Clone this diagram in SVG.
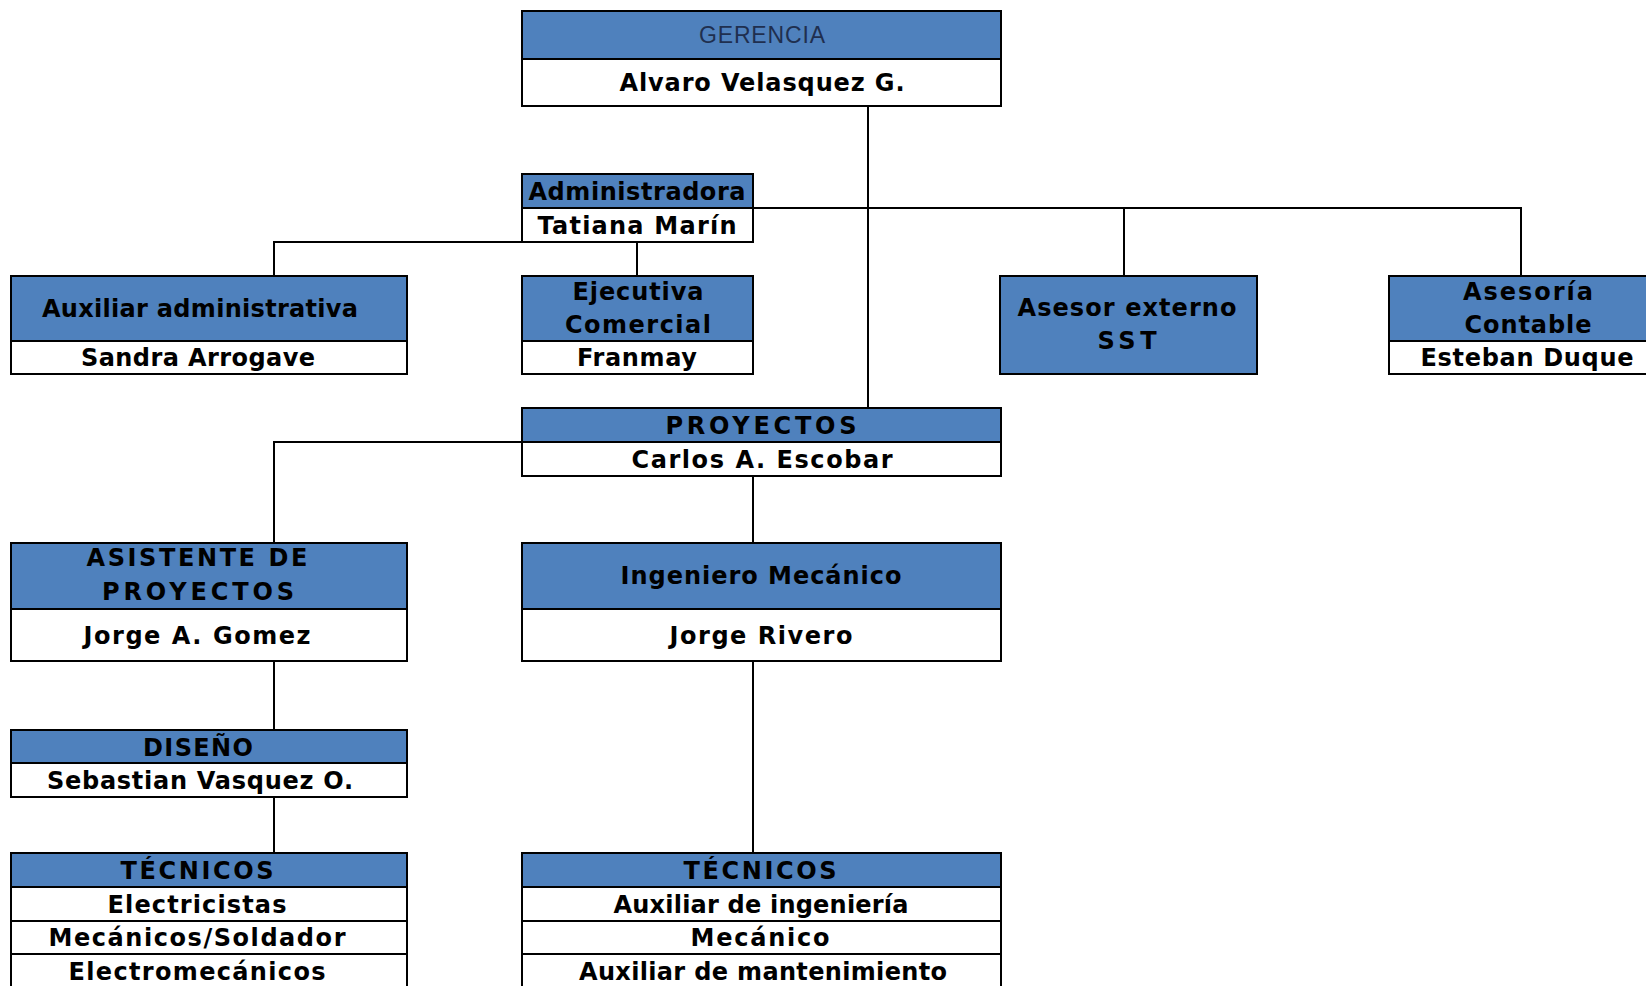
<svg xmlns="http://www.w3.org/2000/svg" width="1646" height="986" viewBox="0 0 1646 986">
<style>
.b{fill:#4F81BD;stroke:#000;stroke-width:2}
.w{fill:#fff;stroke:#000;stroke-width:2}
.c{fill:none;stroke:#000;stroke-width:2}
text{font-family:"DejaVu Sans","Liberation Sans",Arial,sans-serif;font-size:24px;font-weight:bold;fill:#000;text-anchor:middle}
.t{font-family:"Liberation Sans",Arial,sans-serif;font-size:23px;font-weight:normal;fill:#1F2F4F}
</style>
<rect width="1646" height="986" fill="#fff"/>
<g id="connectors">
<path class="c" d="M868 106V408"/>
<path class="c" d="M753 208H1521V276M1124 208V276"/>
<path class="c" d="M522 242H274V276M637 242V276"/>
<path class="c" d="M522 442H274V543M753 476V543"/>
<path class="c" d="M274 661V730M274 797V853"/>
<path class="c" d="M753 661V853"/>
</g>
<g id="gerencia">
<rect class="b" x="522" y="11" width="479" height="48"/>
<rect class="w" x="522" y="59" width="479" height="47"/>
<text class="t" x="762" y="43" textLength="126">GERENCIA</text>
<text x="762" y="91" textLength="285">Alvaro Velasquez G.</text>
</g>
<g id="administradora">
<rect class="b" x="522" y="174" width="231" height="34"/>
<rect class="w" x="522" y="208" width="231" height="34"/>
<text x="637" y="200" textLength="217">Administradora</text>
<text x="637" y="234" textLength="199">Tatiana Marín</text>
</g>
<g id="auxiliar">
<rect class="b" x="11" y="276" width="396" height="65"/>
<rect class="w" x="11" y="341" width="396" height="33"/>
<text x="200" y="317" textLength="316">Auxiliar administrativa</text>
<text x="198" y="366" textLength="234">Sandra Arrogave</text>
</g>
<g id="ejecutiva">
<rect class="b" x="522" y="276" width="231" height="65"/>
<rect class="w" x="522" y="341" width="231" height="33"/>
<text x="638" y="300" textLength="131">Ejecutiva</text>
<text x="638" y="333" textLength="146">Comercial</text>
<text x="637" y="366" textLength="120">Franmay</text>
</g>
<g id="asesor">
<rect class="b" x="1000" y="276" width="257" height="98"/>
<text x="1127" y="316" textLength="219">Asesor externo</text>
<text x="1127" y="349" textLength="59">SST</text>
</g>
<g id="contable">
<rect class="b" x="1389" y="276" width="262" height="65"/>
<rect class="w" x="1389" y="341" width="262" height="33"/>
<text x="1528" y="300" textLength="130">Asesoría</text>
<text x="1528" y="333" textLength="127">Contable</text>
<text x="1527" y="366" textLength="213">Esteban Duque</text>
</g>
<g id="proyectos">
<rect class="b" x="522" y="408" width="479" height="34"/>
<rect class="w" x="522" y="442" width="479" height="34"/>
<text x="761" y="434" textLength="191">PROYECTOS</text>
<text x="762" y="468" textLength="261">Carlos A. Escobar</text>
</g>
<g id="asistente">
<rect class="b" x="11" y="543" width="396" height="66"/>
<rect class="w" x="11" y="609" width="396" height="52"/>
<text x="197" y="566" textLength="221">ASISTENTE DE</text>
<text x="198" y="600" textLength="192">PROYECTOS</text>
<text x="197" y="644" textLength="227">Jorge A. Gomez</text>
</g>
<g id="ingeniero">
<rect class="b" x="522" y="543" width="479" height="66"/>
<rect class="w" x="522" y="609" width="479" height="52"/>
<text x="761" y="584" textLength="281">Ingeniero Mecánico</text>
<text x="761" y="644" textLength="183">Jorge Rivero</text>
</g>
<g id="diseno">
<rect class="b" x="11" y="730" width="396" height="33"/>
<rect class="w" x="11" y="763" width="396" height="34"/>
<text x="198" y="756" textLength="110">DISEÑO</text>
<text x="200" y="789" textLength="306">Sebastian Vasquez O.</text>
</g>
<g id="tecnicos-diseno">
<rect class="b" x="11" y="853" width="396" height="34"/>
<rect class="w" x="11" y="887" width="396" height="34"/>
<rect class="w" x="11" y="921" width="396" height="33"/>
<rect class="w" x="11" y="954" width="396" height="40"/>
<text x="197" y="879" textLength="153">TÉCNICOS</text>
<text x="197" y="913" textLength="179">Electricistas</text>
<text x="197" y="946" textLength="297">Mecánicos/Soldador</text>
<text x="197" y="980" textLength="257">Electromecánicos</text>
</g>
<g id="tecnicos-ingenieria">
<rect class="b" x="522" y="853" width="479" height="34"/>
<rect class="w" x="522" y="887" width="479" height="34"/>
<rect class="w" x="522" y="921" width="479" height="33"/>
<rect class="w" x="522" y="954" width="479" height="40"/>
<text x="760" y="879" textLength="153">TÉCNICOS</text>
<text x="761" y="913" textLength="295">Auxiliar de ingeniería</text>
<text x="760" y="946" textLength="139">Mecánico</text>
<text x="763" y="980" textLength="368">Auxiliar de mantenimiento</text>
</g>
</svg>
